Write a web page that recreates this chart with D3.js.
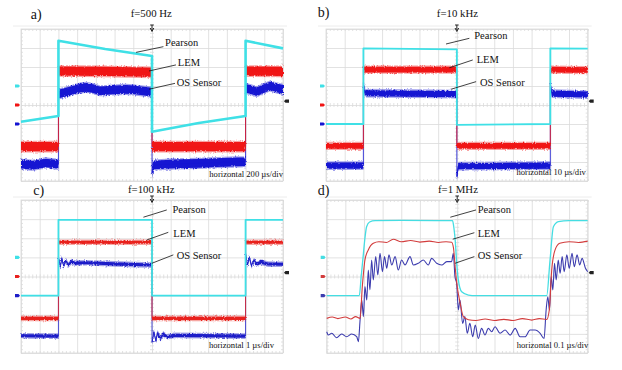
<!DOCTYPE html>
<html><head><meta charset="utf-8">
<script src="https://cdn.jsdelivr.net/npm/d3@7"></script>
<style>body{margin:0;background:#fff}svg{display:block}</style>
</head><body>
<svg id="c" width="622" height="370"></svg>
<script>
// ---------- data (x in divisions 0..14, y in divisions -4..4) ----------
const seriesNames = ["Pearson", "LEM", "OS Sensor"];
const panelLetters = ["a)", "b)", "c)", "d)"];
const panelFreqs = ["f=500 Hz", "f=10 kHz", "f=100 kHz", "f=1 MHz"];
const panelTimebase = ["horizontal 200 \u00b5s/div", "horizontal 10 \u00b5s/div", "horizontal 1 \u00b5s/div", "horizontal 0.1 \u00b5s/div"];
const xDivs = [0,1,2,3,4,5,6,7,8,9,10,11,12,13,14];
const yDivs = [-4,-3,-2,-1,0,1,2,3,4];

const aPearson = [[0,-0.88],[2,-0.58],[2,3.38],[4.5,2.95],[7,2.58],[7,-1.41],[9.5,-0.95],[12,-0.58],[12,3.38],[14,2.98]];
const aLEM = [[0,-2.19],[2,-2.19],[2,1.79],[4.5,1.77],[7,1.72],[7,-2.19],[9.5,-2.19],[12,-2.19],[12,1.79],[14,1.77]];
const aOS = [[0,-3.1],[0.6,-3.18],[1.3,-3.05],[2,-3.12],[2,0.58],[2.4,0.68],[2.8,0.79],[3.2,0.9],[3.5,0.93],[3.85,0.86],[4.2,0.75],[4.55,0.76],[4.9,0.79],[5.6,0.82],[6.0,0.8],[6.4,0.75],[7,0.68],[7,-3.6],[7.05,-3.16],[8.2,-3.1],[9.5,-3.07],[10.8,-3.02],[12,-2.98],[12,0.88],[12.3,0.8],[12.6,0.7],[12.95,0.85],[13.3,1.0],[13.65,0.9],[14,0.82]];

const bPearson = [[0,-1.0],[2,-1.0],[2,2.98],[7,2.93],[7,-1.05],[12,-1.0],[12,2.98],[14,2.97]];
const bLEM = [[0,-2.15],[2,-2.15],[2,1.86],[7,1.86],[7,-2.15],[12,-2.15],[12,1.86],[14,1.84]];
const bOS = [[0,-3.19],[2,-3.19],[2,1.17],[2.08,0.62],[7,0.57],[7,-3.77],[7.08,-3.22],[12,-3.19],[12,1.1],[12.08,0.6],[14,0.55]];

const cPearson = [[0,-1.0],[2,-1.0],[2,2.96],[7,2.96],[7,-1.0],[12,-1.0],[12,2.96],[14,2.96]];
const cLEM = [[0,-2.19],[2,-2.19],[2,1.79],[7,1.79],[7,-2.19],[12,-2.19],[12,1.79],[14,1.79]];
const cOS = [[0,-3.1],[2,-3.12],[2,1.04],[2.1,0.5],[2.18,0.95],[2.28,0.55],[2.4,0.85],[2.52,0.6],[2.7,0.78],[2.9,0.7],[3.5,0.72],[5,0.66],[7,0.6],
             [7,-3.45],[7.1,-2.9],[7.2,-3.35],[7.3,-2.95],[7.45,-3.25],[7.6,-3.0],[7.8,-3.15],[8.2,-3.08],[12,-3.12],
             [12,1.21],[12.1,0.6],[12.2,1.0],[12.32,0.55],[12.45,0.85],[12.6,0.62],[12.8,0.75],[13.2,0.65],[14,0.64]];

const dPearson = [[0,-1.0],[1.75,-1.0],[1.85,0.0],[1.95,1.0],[2.05,2.0],[2.14,2.6],[2.3,2.85],[2.6,2.92],[4,2.93],[6.75,2.92],[6.8,2.7],[6.9,1.8],[6.98,0.6],[7.06,-0.18],[7.24,-0.8],[7.6,-0.97],[8,-1.0],[11.8,-1.0],[11.98,0.86],[12.16,2.6],[12.43,2.87],[13,2.92],[14,2.92]];
const dLEM = [[0,-2.19],[0.3,-2.12],[0.6,-2.2],[1.0,-2.12],[1.3,-2.22],[1.55,-2.1],[1.79,-2.19],[1.91,-0.53],[2.05,0.86],[2.23,1.39],[2.5,1.74],[2.8,1.82],[3.2,1.78],[3.57,1.95],[4,1.82],[4.5,1.88],[5,1.8],[5.5,1.85],[6,1.78],[6.4,1.82],[6.7,1.79],[6.8,1.5],[6.89,0.51],[6.97,-0.3],[7.16,-1.4],[7.33,-2.1],[7.6,-2.26],[8.0,-2.3],[8.5,-2.22],[9.0,-2.3],[9.5,-2.24],[10.0,-2.3],[10.5,-2.2],[11.0,-2.28],[11.4,-2.2],[11.8,-2.25],[11.94,-1.75],[12.07,0.34],[12.25,1.39],[12.5,1.74],[13,1.82],[13.5,1.78],[14,1.85]];
const dOS = [[0,-2.89],[0.09,-3.06],[0.27,-2.97],[0.53,-3.2],[0.8,-3.01],[1.07,-3.15],[1.34,-3.01],[1.61,-3.15],[1.7,-3.41],
             [1.79,-2.28],[1.88,-1.23],[1.97,-2.1],[2.05,-0.53],[2.15,-1.23],[2.23,0.34],[2.32,-0.7],[2.41,0.86],[2.5,-0.18],[2.63,1.04],[2.74,0.08],[2.86,1.21],[2.99,0.25],[3.1,1.04],[3.22,0.43],[3.34,1.13],[3.49,0.6],[3.67,1.04],[3.84,0.34],[4.02,0.86],[4.2,0.6],[4.47,1.04],[4.65,0.6],[4.91,0.69],[5.18,0.86],[5.45,0.6],[5.63,0.95],[5.9,0.69],[6.17,0.6],[6.44,0.78],[6.7,0.78],[6.79,1.21],[6.88,0.0],
             [6.97,-0.36],[7.06,-1.75],[7.15,-1.23],[7.29,-2.45],[7.41,-2.1],[7.54,-2.97],[7.68,-2.45],[7.83,-3.15],[7.97,-2.54],[8.13,-3.24],[8.31,-2.71],[8.49,-3.06],[8.67,-2.71],[8.85,-2.89],[9.03,-2.63],[9.3,-2.97],[9.57,-2.8],[9.84,-3.06],[10.11,-2.71],[10.37,-3.15],[10.64,-3.15],[10.91,-2.8],[11.18,-2.8],[11.45,-2.97],[11.66,-3.24],
             [11.77,-1.75],[11.86,-1.06],[11.95,-1.75],[12.04,0.0],[12.13,-0.7],[12.22,0.69],[12.31,-0.18],[12.42,0.86],[12.52,0.17],[12.63,1.04],[12.74,0.25],[12.88,1.13],[13.01,0.43],[13.16,1.21],[13.28,0.51],[13.43,1.13],[13.57,0.6],[13.7,0.95],[13.88,0.43],[14,0.25]];

// annotation anchor positions (division units): [lineStart, lineEnd, labelPos]
const aNotes = [[[6.15,2.77],[7.61,3.07],[7.7,3.12]],[[6.84,1.79],[8.28,2.11],[8.38,2.07]],[[6.84,0.83],[8.23,1.14],[8.32,1.0]]];
const bNotes = [[[6.42,3.21],[7.67,3.51],[7.93,3.46]],[[6.6,1.96],[7.85,2.37],[8.06,2.19]],[[6.69,0.83],[8.03,1.23],[8.24,1.0]]];
const cNotes = [[[6.54,3.1],[7.79,3.48],[8.09,3.31]],[[6.72,1.91],[7.87,2.31],[8.14,2.08]],[[6.99,0.69],[8.14,1.13],[8.32,0.92]]];
const dNotes = [[[6.63,3.1],[8.01,3.48],[8.1,3.31]],[[6.76,1.95],[7.92,2.29],[8.1,2.08]],[[6.88,0.69],[7.92,1.04],[8.1,0.92]]];

// ---------- layout / style ----------
const panels = [
  {left:21, right:283, top:29, bottom:181, data:[aPearson,aLEM,aOS], notes:aNotes, widths:[2.6,10.5,10], band:true,
   colors:["#3fe0e6","#f01414","#1414d2"], letter:[0.52,4.55], freq:[6.96,4.65], tb:[14.0,-3.8]},
  {left:326, right:587.7, top:29, bottom:181, data:[bPearson,bLEM,bOS], notes:bNotes, widths:[1.8,7,7.5], band:true,
   colors:["#3fe0e6","#f01414","#1414d2"], letter:[-0.44,4.65], freq:[7.03,4.65], tb:[13.9,-3.68]},
  {left:21, right:283, top:200, bottom:353, data:[cPearson,cLEM,cOS], notes:cNotes, widths:[1.8,4.5,4.5], band:true,
   colors:["#3fe0e6","#e8201e","#1e1ec8"], letter:[0.66,4.27], freq:[6.96,4.36], tb:[13.52,-3.76]},
  {left:326.7, right:587.7, top:200, bottom:353, data:[dPearson,dLEM,dOS], notes:dNotes, widths:[1.3,1.1,1.1], band:false,
   colors:["#45dde2","#d23c3c","#3c3cae"], letter:[-0.48,4.27], freq:[7.04,4.36], tb:[14.03,-3.76]}
];
const serif = "'Liberation Serif','Times New Roman',serif";
const gridColor = "#dadada";

const svg = d3.select("#c");
svg.append("rect").attr("width",622).attr("height",370).attr("fill","#fff");
// texture filter that roughens the edges of the noisy bands
const defs = svg.append("defs");
const flt = defs.append("filter").attr("id","fuzz").attr("x","-2%").attr("y","-30%").attr("width","104%").attr("height","160%");
flt.append("feTurbulence").attr("type","fractalNoise").attr("baseFrequency","0.9 0.6").attr("numOctaves",1).attr("seed",3).attr("result","t");
flt.append("feDisplacementMap").attr("in","SourceGraphic").attr("in2","t").attr("scale",3.5)
   .attr("xChannelSelector","R").attr("yChannelSelector","G");

panels.forEach((p, i) => {
  const g = svg.append("g");
  const x = d3.scaleLinear().domain([0,14]).range([p.left,p.right]);
  const y = d3.scaleLinear().domain([-4,4]).range([p.bottom,p.top]);
  const h = p.bottom - p.top, w = p.right - p.left;

  g.append("line").attr("x1",p.left-8).attr("x2",p.right+4).attr("y1",p.top-3).attr("y2",p.top-3)
    .attr("stroke","#ececec").attr("stroke-width",1);

  const style = sel => { sel.select(".domain").remove(); sel.selectAll("line").attr("stroke",gridColor).attr("stroke-width",0.8); sel.selectAll("text").remove(); };
  g.append("g").attr("transform",`translate(0,${p.bottom})`)
    .call(d3.axisBottom(x).tickValues(xDivs).tickSize(-h).tickFormat("")).call(style);
  g.append("g").attr("transform",`translate(${p.left},0)`)
    .call(d3.axisLeft(y).tickValues(yDivs).tickSize(-w).tickFormat("")).call(style);
  const fine = d3.range(0,14.001,0.2), fineY = d3.range(-4,4.001,0.2);
  g.append("g").attr("transform",`translate(0,${y(0)-2})`)
    .call(d3.axisBottom(x).tickValues(fine).tickSize(4).tickFormat("")).call(style);
  g.append("g").attr("transform",`translate(${x(7)+2},0)`)
    .call(d3.axisLeft(y).tickValues(fineY).tickSize(4).tickFormat("")).call(style);
  g.append("g").attr("transform",`translate(0,${p.top})`)
    .call(d3.axisBottom(x).tickValues(fine).tickSize(2).tickFormat("")).call(style);
  g.append("g").attr("transform",`translate(0,${p.bottom})`)
    .call(d3.axisTop(x).tickValues(fine).tickSize(2).tickFormat("")).call(style);
  g.append("g").attr("transform",`translate(${p.left},0)`)
    .call(d3.axisRight(y).tickValues(fineY).tickSize(2).tickFormat("")).call(style);
  g.append("g").attr("transform",`translate(${p.right},0)`)
    .call(d3.axisLeft(y).tickValues(fineY).tickSize(2).tickFormat("")).call(style);
  g.append("rect").attr("x",p.left).attr("y",p.top).attr("width",w).attr("height",h)
    .attr("fill","none").attr("stroke",gridColor).attr("stroke-width",0.8);

  const line = d3.line().x(d=>x(d[0])).y(d=>y(d[1]));
  [2,1,0].forEach(k => {
    const data = p.data[k], col = p.colors[k], sw = p.widths[k];
    if (p.band && k > 0) {
      const band = hw => d3.area().x(d=>x(d[0])).y0(d=>y(d[1])+hw).y1(d=>y(d[1])-hw);
      const bg = g.append("g").attr("filter","url(#fuzz)");
      bg.append("path").attr("d", band(sw/2+0.6)(data)).attr("fill",col).attr("opacity",0.4);
      bg.append("path").attr("d", band(sw/2-0.7)(data)).attr("fill",col);
      g.append("path").attr("d", line(data)).attr("fill","none").attr("stroke",col).attr("stroke-width",1).attr("opacity",0.8);
    } else {
      const ln = p.band ? line : d3.line().x(d=>x(d[0])).y(d=>y(d[1])).curve(d3.curveMonotoneX);
      g.append("path").attr("d", ln(data)).attr("fill","none").attr("stroke",col)
        .attr("stroke-width",sw).attr("stroke-linejoin","round");
    }
  });

  [[1,p.colors[0]],[0,p.colors[1]],[-1,p.colors[2]]].forEach(([lv,col]) => {
    const yy = y(lv), xx = p.left;
    g.append("path").attr("d",`M${xx-6},${yy-1.6}H${xx-2.5}L${xx-1},${yy}L${xx-2.5},${yy+1.6}H${xx-6}Z`).attr("fill",col);
  });
  { const yy = y(0.2), xx = p.right;
    g.append("path").attr("d",`M${xx+6},${yy-1.6}H${xx+2.5}L${xx+1},${yy}L${xx+2.5},${yy+1.6}H${xx+6}Z`).attr("fill","#222"); }
  { const xx = x(7), yy = p.top;
    g.append("path").attr("d",`M${xx-1.8},${yy-4}H${xx+1.8}M${xx},${yy-4}V${yy+1}M${xx-1.8},${yy-1}L${xx},${yy+2.5}L${xx+1.8},${yy-1}`)
      .attr("stroke","#222").attr("stroke-width",1).attr("fill","none"); }

  p.notes.forEach((n, k) => {
    g.append("line").attr("x1",x(n[0][0])).attr("y1",y(n[0][1])).attr("x2",x(n[1][0])).attr("y2",y(n[1][1]))
      .attr("stroke","#111").attr("stroke-width",0.8);
    g.append("text").attr("x",x(n[2][0])).attr("y",y(n[2][1])).text(seriesNames[k])
      .attr("font-family",serif).attr("font-size",10.5).attr("fill","#111");
  });
  g.append("text").attr("x",x(p.tb[0])).attr("y",y(p.tb[1])).attr("text-anchor","end").text(panelTimebase[i])
    .attr("font-family",serif).attr("font-size",8.6).attr("fill","#111");
  g.append("text").attr("x",x(p.letter[0])).attr("y",y(p.letter[1])).text(panelLetters[i])
    .attr("font-family",serif).attr("font-size",14).attr("fill","#111");
  g.append("text").attr("x",x(p.freq[0])).attr("y",y(p.freq[1])).attr("text-anchor","middle").text(panelFreqs[i])
    .attr("font-family",serif).attr("font-size",10.8).attr("fill","#111");
});
</script>
</body></html>
